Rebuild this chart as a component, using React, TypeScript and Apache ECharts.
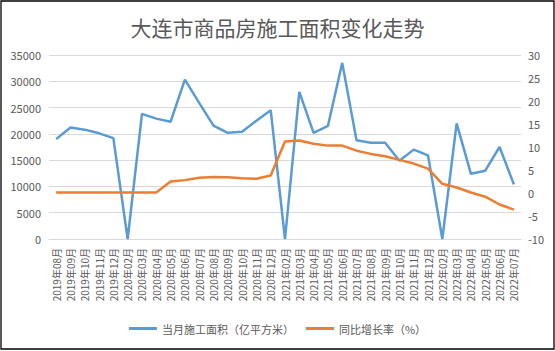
import React, { useEffect, useRef } from "react";
import * as echarts from "echarts";

const categories = [
  "2019年08月", "2019年09月", "2019年10月", "2019年11月", "2019年12月",
  "2020年02月", "2020年03月", "2020年04月", "2020年05月", "2020年06月", "2020年07月",
  "2020年08月", "2020年09月", "2020年10月", "2020年11月", "2020年12月",
  "2021年02月", "2021年03月", "2021年04月", "2021年05月", "2021年06月", "2021年07月",
  "2021年08月", "2021年09月", "2021年10月", "2021年11月", "2021年12月",
  "2022年02月", "2022年03月", "2022年04月", "2022年05月", "2022年06月", "2022年07月",
];

const monthlyArea = [
  19000, 21200, 20800, 20100, 19200,
  0, 23800, 22900, 22300, 30300, 25900,
  21550, 20200, 20400, 22500, 24500,
  0, 28000, 20200, 21500, 33500, 18800,
  18300, 18300, 14900, 17000, 15900,
  0, 22000, 12400, 13000, 17500, 10400,
];

const yoyRate = [
  0.1, 0.1, 0.1, 0.1, 0.1,
  0.1, 0.1, 0.1, 2.5, 2.8, 3.3,
  3.5, 3.4, 3.2, 3.1, 3.8,
  11.2, 11.4, 10.7, 10.3, 10.3, 9.2,
  8.5, 8.0, 7.2, 6.4, 5.3,
  2.0, 1.2, 0.1, -0.8, -2.5, -3.6,
];

const seriesNames = ["当月施工面积（亿平方米）", "同比增长率（%）"];
const title = "大连市商品房施工面积变化走势";

export default function App() {
  const ref = useRef<HTMLDivElement>(null);
  useEffect(() => {
    if (!ref.current) return;
    const chart = echarts.init(ref.current, undefined, { renderer: "svg" });
    const font = "'Noto Sans CJK SC', 'Noto Sans', sans-serif";
    const txt = "#595959";
    chart.setOption({
      animation: false,
      textStyle: { fontFamily: font },
      title: {
        text: title,
        left: "center",
        top: 11,
        textStyle: { fontSize: 21, fontWeight: "normal", color: txt, fontFamily: font },
      },
      graphic: [
        {
          type: "rect",
          shape: { x: 1, y: 1, width: 553, height: 348 },
          style: { fill: "none", stroke: "#000", lineWidth: 1.3 },
          silent: true,
        },
      ],
      legend: {
        bottom: 12,
        left: "center",
        itemWidth: 28,
        itemHeight: 3,
        itemGap: 12,
        icon: "rect",
        textStyle: { fontSize: 11, color: txt, fontFamily: font },
        data: seriesNames,
      },
      grid: { left: 49, right: 34, top: 55, height: 184, containLabel: false },
      xAxis: {
        type: "category",
        data: categories,
        boundaryGap: true,
        axisLine: { lineStyle: { color: "#d9d9d9" } },
        axisTick: { show: false },
        axisLabel: { rotate: 90, fontSize: 10, color: txt, margin: 9, interval: 0, fontFamily: font },
      },
      yAxis: [
        {
          type: "value",
          min: 0,
          max: 35000,
          interval: 5000,
          axisLine: { show: false },
          axisTick: { show: false },
          axisLabel: {
            fontSize: 11,
            color: txt,
            margin: 8,
            fontFamily: font,
            formatter: (v: number) => String(v),
          },
          splitLine: { lineStyle: { color: "#d9d9d9" } },
        },
        {
          type: "value",
          min: -10,
          max: 30,
          interval: 5,
          axisLine: { show: false },
          axisTick: { show: false },
          axisLabel: { fontSize: 11, color: txt, margin: 7, fontFamily: font },
          splitLine: { show: false },
        },
      ],
      series: [
        {
          name: seriesNames[0],
          type: "line",
          data: monthlyArea,
          yAxisIndex: 0,
          symbol: "none",
          lineStyle: { color: "#5B9BD5", width: 2.5 },
          itemStyle: { color: "#5B9BD5" },
        },
        {
          name: seriesNames[1],
          type: "line",
          data: yoyRate,
          yAxisIndex: 1,
          symbol: "none",
          lineStyle: { color: "#ED7D31", width: 2.5 },
          itemStyle: { color: "#ED7D31" },
        },
      ],
    });
    return () => chart.dispose();
  }, []);
  return (
    <div
      ref={ref}
      style={{ position: "absolute", left: 0, top: 0, width: 555, height: 351, background: "#fff" }}
    />
  );
}
